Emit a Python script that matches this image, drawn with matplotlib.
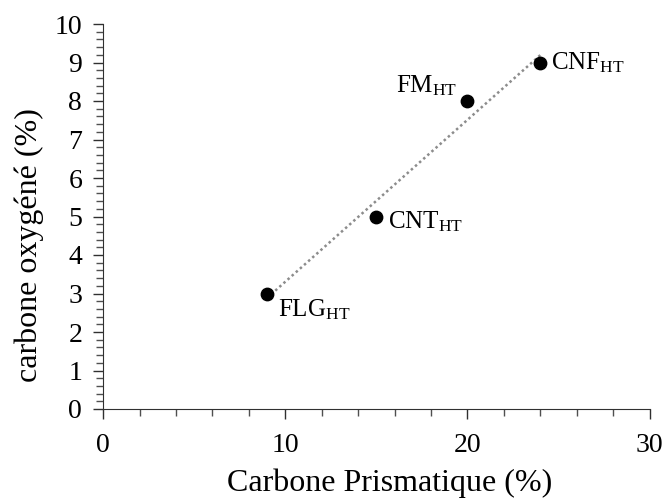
import numpy as np
import matplotlib
matplotlib.use("Agg")
import matplotlib.pyplot as plt
from matplotlib.ticker import MultipleLocator

plt.rcParams['font.family'] = ['Liberation Serif', 'DejaVu Serif']
plt.rcParams['mathtext.fontset'] = 'custom'
plt.rcParams['mathtext.rm'] = 'Liberation Serif'
plt.rcParams['mathtext.it'] = 'Liberation Serif:italic'

# data
samples = ['FLG', 'CNT', 'FM', 'CNF']
prismatic = [9, 15, 20, 24]
oxygen = [3, 5, 8, 9]
# label offsets in points (dx, dy, ha, va)
offsets = [(8, -3, 'left', 'top'), (8, -4, 'left', 'center'),
           (-7, 2, 'right', 'bottom'), (8, 0, 'left', 'center')]

fig = plt.figure(figsize=(6.65, 5), dpi=100)
ax = fig.add_axes([0.155, 0.182, 0.822, 0.77])

# linear trendline
coef = np.polyfit(prismatic, oxygen, 1)
xs = np.array([min(prismatic), max(prismatic)])
ax.plot(xs, np.polyval(coef, xs), linestyle=(0, (1, 1.2)), color='#8c8c8c', lw=1.8, zorder=1)

ax.scatter(prismatic, oxygen, s=80, color='black', zorder=3)

for name, x, y, (dx, dy, ha, va) in zip(samples, prismatic, oxygen, offsets):
    ax.annotate(name + r'$_{\mathrm{HT}}$', (x, y), xytext=(dx, dy),
                textcoords='offset points', ha=ha, va=va, fontsize=18)

ax.set_xlim(0, 30)
ax.set_ylim(0, 10)
ax.xaxis.set_major_locator(MultipleLocator(10))
ax.xaxis.set_minor_locator(MultipleLocator(2))
ax.yaxis.set_major_locator(MultipleLocator(1))
ax.yaxis.set_minor_locator(MultipleLocator(0.2))
ax.tick_params(which='major', length=7, width=1, labelsize=20, color='#303030')
ax.tick_params(which='minor', length=5, width=1, color='#505050')
ax.tick_params(axis='x', pad=10)
ax.tick_params(axis='y', pad=8)

for side in ['top', 'right']:
    ax.spines[side].set_visible(False)
for side in ['left', 'bottom']:
    ax.spines[side].set_color('#303030')

ax.set_xlabel('Carbone Prismatique (%)', fontsize=23)
ax.set_ylabel('carbone oxygéné (%)', fontsize=23)
ax.xaxis.set_label_coords(0.525, -0.155)
ax.yaxis.set_label_coords(-0.108, 0.425)

fig.savefig('out.png', dpi=100)
